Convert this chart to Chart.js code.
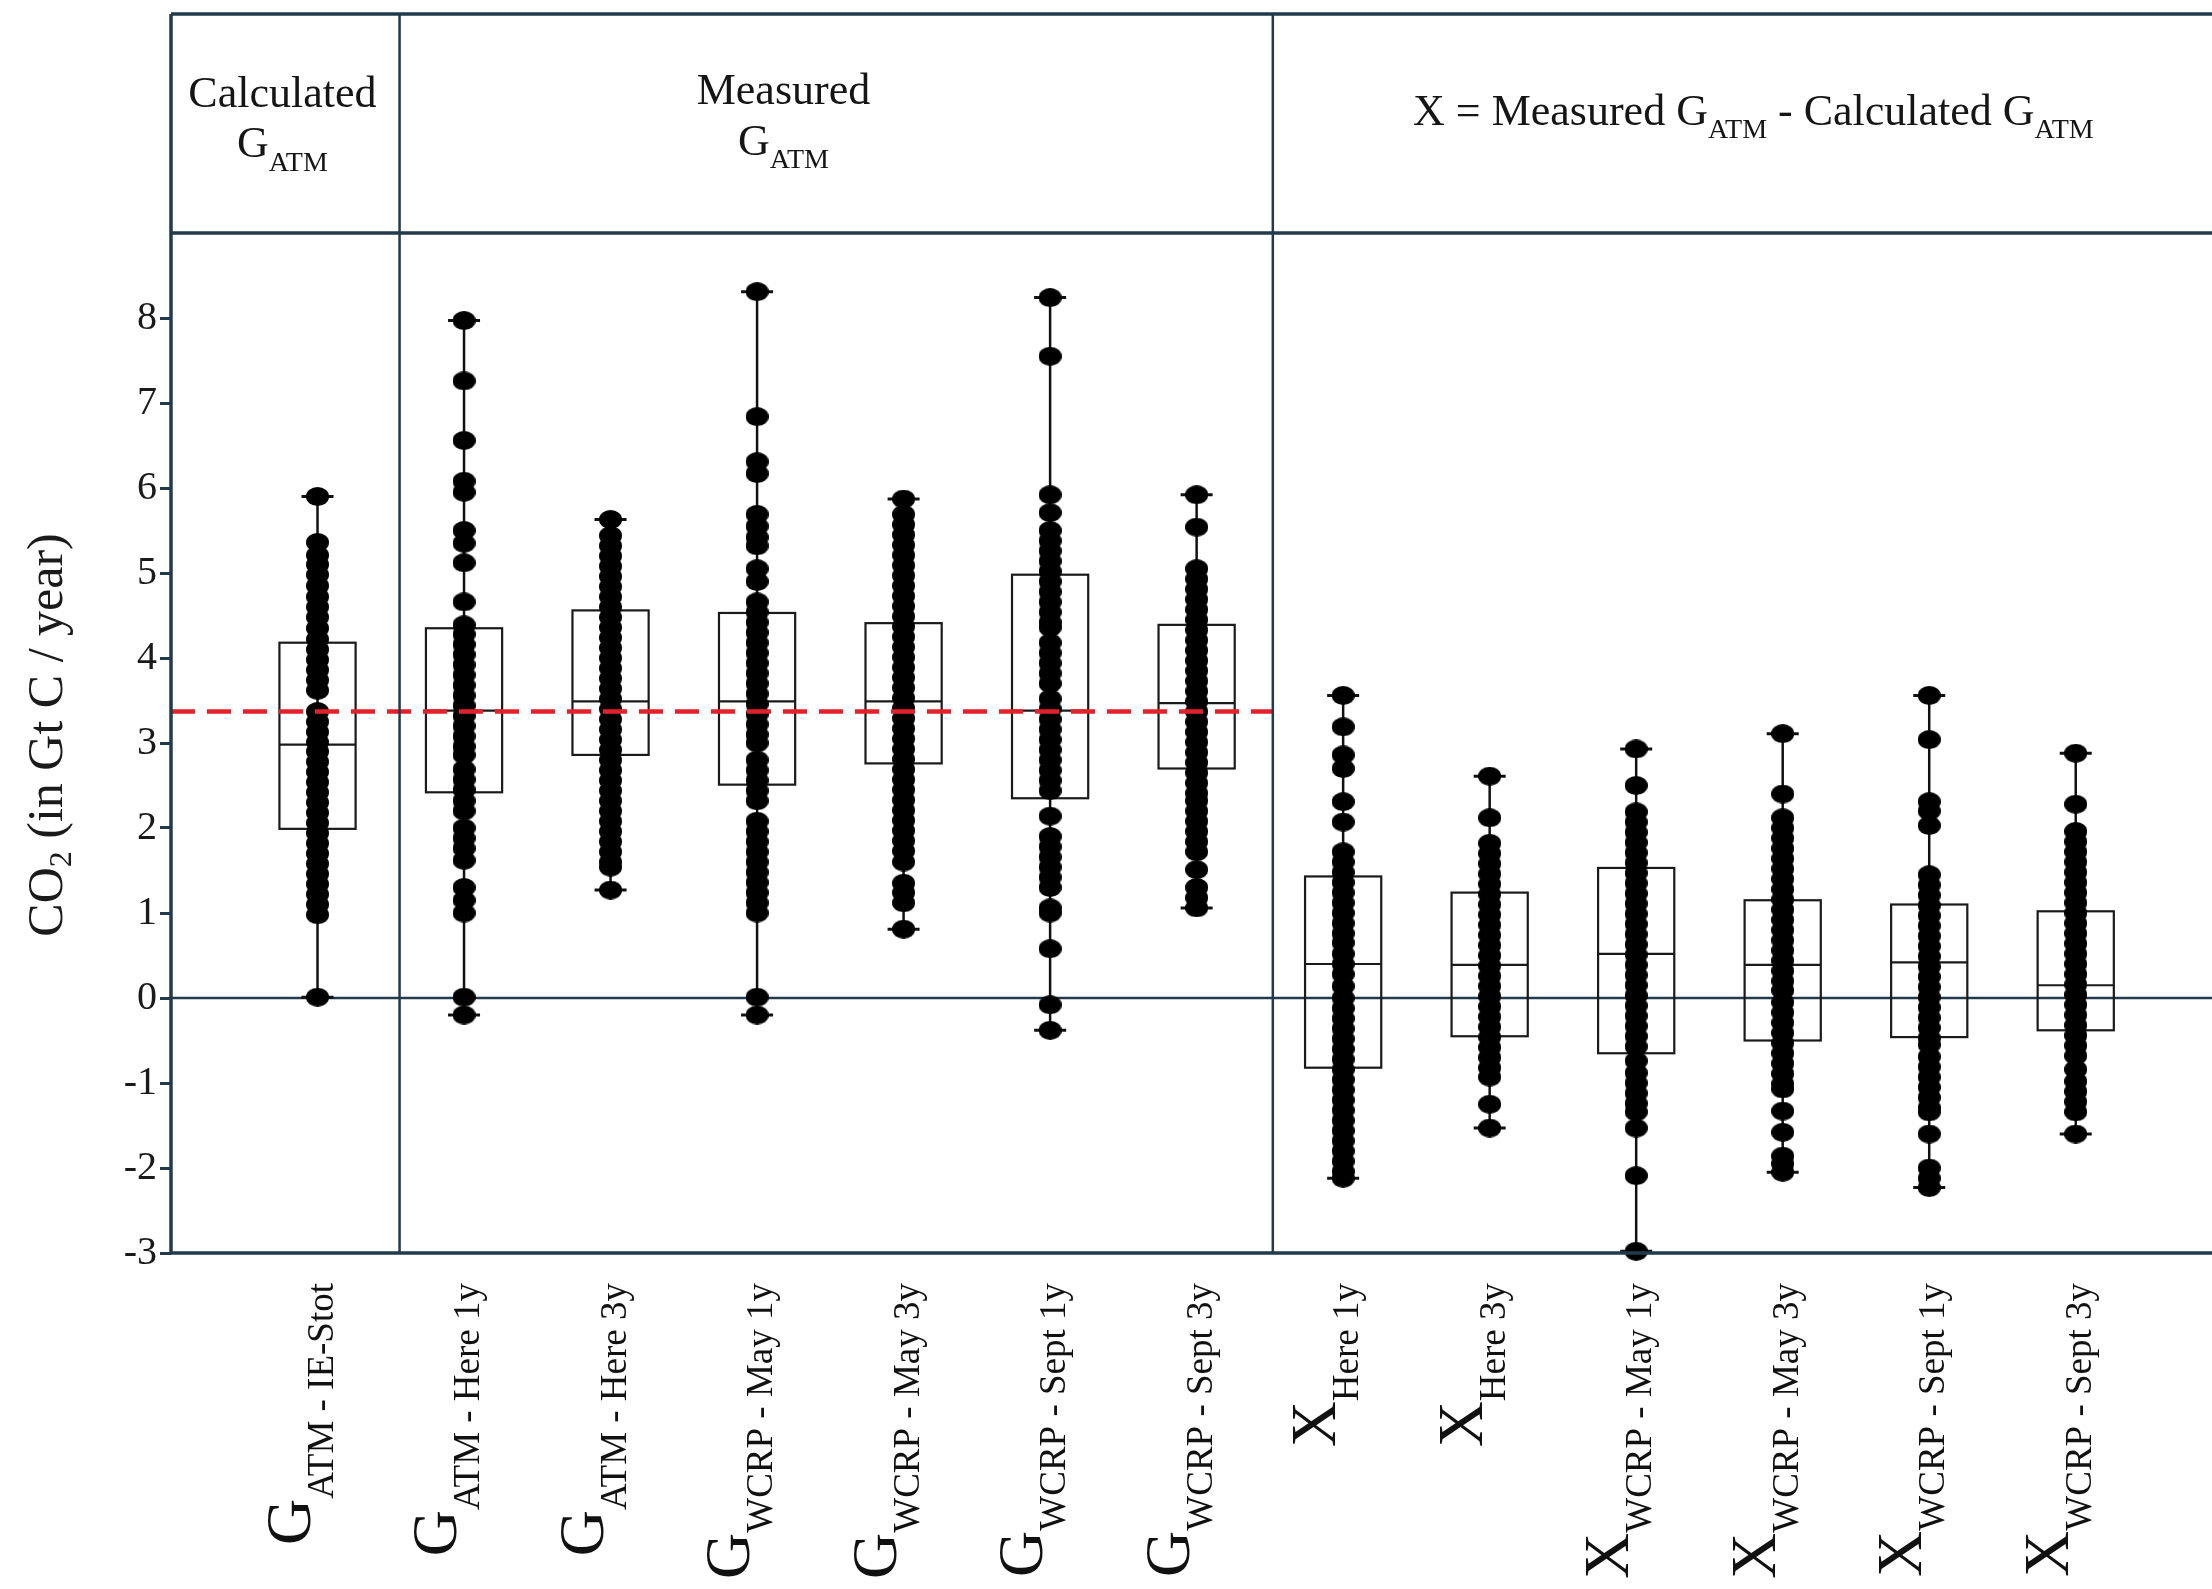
<!DOCTYPE html>
<html>
<head>
<meta charset="utf-8">
<script src="https://cdn.jsdelivr.net/npm/chart.js@4.4.1/dist/chart.umd.min.js"></script>
<style>
html,body{margin:0;padding:0;background:#ffffff;}
#wrap{width:2212px;height:1589px;position:relative;}
</style>
</head>
<body>
<div id="wrap"><canvas id="c"></canvas></div>
<script>
// ---------------- DATA ----------------
const categories = [
  'G_ATM - IE-Stot','G_ATM - Here 1y','G_ATM - Here 3y',
  'G_WCRP - May 1y','G_WCRP - May 3y','G_WCRP - Sept 1y','G_WCRP - Sept 3y',
  'X_Here 1y','X_Here 3y','X_WCRP - May 1y','X_WCRP - May 3y','X_WCRP - Sept 1y','X_WCRP - Sept 3y'
];
const labelMain = ['G','G','G','G','G','G','G','X','X','X','X','X','X'];
const labelSub = [
  'ATM - IE-Stot','ATM - Here 1y','ATM - Here 3y',
  'WCRP - May 1y','WCRP - May 3y','WCRP - Sept 1y','WCRP - Sept 3y',
  'Here 1y','Here 3y','WCRP - May 1y','WCRP - May 3y','WCRP - Sept 1y','WCRP - Sept 3y'
];

const ptsCalcIEStot = [5.90,5.36,5.21,5.10,4.98,4.85,4.72,4.60,4.48,4.35,4.22,4.10,3.98,3.86,3.74,3.62,3.37,3.25,3.13,3.01,2.90,2.78,2.66,2.54,2.42,2.30,2.18,2.06,1.94,1.82,1.70,1.58,1.46,1.34,1.22,1.10,0.98,0.01];
const ptsHere1y = [7.97,7.26,6.56,6.08,5.95,5.50,5.35,5.12,4.66,4.39,4.28,4.16,4.04,3.92,3.80,3.68,3.56,3.44,3.32,3.20,3.08,2.96,2.86,2.69,2.57,2.45,2.32,2.20,2.00,1.88,1.76,1.62,1.30,1.15,1.00,0.01,-0.20];
const ptsHere3y = [5.63,5.44,5.32,5.20,5.08,4.96,4.84,4.72,4.60,4.48,4.36,4.24,4.12,4.00,3.88,3.76,3.64,3.52,3.40,3.28,3.16,3.04,2.92,2.80,2.68,2.56,2.44,2.32,2.20,2.08,1.96,1.84,1.72,1.60,1.54,1.27];
const ptsMay1y = [8.31,6.84,6.31,6.17,5.69,5.55,5.42,5.32,5.05,4.90,4.66,4.54,4.42,4.30,4.18,4.06,3.94,3.82,3.70,3.58,3.46,3.34,3.22,3.10,3.00,2.80,2.68,2.56,2.44,2.32,2.08,1.96,1.84,1.72,1.60,1.48,1.36,1.24,1.12,1.00,0.01,-0.20];
const ptsMay3y = [5.87,5.69,5.57,5.45,5.33,5.21,5.09,4.97,4.85,4.73,4.61,4.49,4.37,4.25,4.13,4.01,3.89,3.77,3.65,3.53,3.41,3.29,3.17,3.05,2.93,2.81,2.69,2.57,2.45,2.33,2.21,2.09,1.97,1.85,1.73,1.60,1.35,1.24,1.12,0.81];
const ptsSept1y = [8.24,7.55,5.92,5.71,5.50,5.38,5.26,5.14,5.02,4.90,4.78,4.66,4.54,4.42,4.36,4.18,4.06,3.94,3.82,3.70,3.52,3.40,3.28,3.16,3.04,2.92,2.80,2.68,2.56,2.44,2.14,1.90,1.78,1.66,1.54,1.42,1.30,1.06,1.00,0.58,-0.08,-0.38];
const ptsSept3y = [5.92,5.54,5.05,4.93,4.81,4.69,4.57,4.45,4.33,4.21,4.09,3.97,3.85,3.73,3.61,3.49,3.37,3.25,3.13,3.01,2.89,2.77,2.65,2.53,2.41,2.32,2.20,2.08,1.96,1.84,1.72,1.51,1.30,1.18,1.06];
const ptsXHere1y = [3.56,3.19,2.86,2.70,2.31,2.07,1.72,1.60,1.48,1.36,1.24,1.12,1.00,0.88,0.76,0.65,0.52,0.40,0.28,0.14,0.00,-0.12,-0.24,-0.36,-0.48,-0.60,-0.72,-0.84,-0.96,-1.08,-1.20,-1.32,-1.44,-1.56,-1.68,-1.80,-1.92,-2.04,-2.12];
const ptsXHere3y = [2.61,2.12,1.82,1.70,1.58,1.46,1.34,1.22,1.10,0.98,0.86,0.74,0.62,0.50,0.38,0.26,0.14,0.02,-0.10,-0.22,-0.34,-0.46,-0.58,-0.70,-0.82,-0.93,-1.25,-1.53];
const ptsXMay1y = [2.93,2.50,2.19,2.07,1.95,1.83,1.71,1.59,1.47,1.35,1.23,1.11,0.99,0.87,0.75,0.63,0.51,0.39,0.27,0.15,0.03,-0.09,-0.21,-0.33,-0.45,-0.57,-0.74,-0.88,-1.00,-1.12,-1.24,-1.34,-1.53,-2.09,-2.98];
const ptsXMay3y = [3.11,2.40,2.12,2.00,1.88,1.76,1.64,1.52,1.40,1.28,1.16,1.04,0.92,0.80,0.68,0.56,0.44,0.32,0.20,0.09,-0.05,-0.17,-0.29,-0.41,-0.53,-0.65,-0.77,-0.89,-1.01,-1.07,-1.33,-1.58,-1.86,-1.95,-2.05];
const ptsXSept1y = [3.56,3.04,2.31,2.20,2.03,1.45,1.33,1.21,1.09,0.97,0.85,0.73,0.61,0.49,0.37,0.25,0.13,0.01,-0.11,-0.23,-0.35,-0.47,-0.55,-0.69,-0.81,-0.93,-1.05,-1.17,-1.29,-1.34,-1.60,-2.00,-2.12,-2.23];
const ptsXSept3y = [2.88,2.28,1.96,1.84,1.72,1.60,1.48,1.36,1.24,1.12,1.00,0.88,0.76,0.64,0.52,0.40,0.28,0.16,0.04,-0.08,-0.20,-0.32,-0.44,-0.56,-0.68,-0.84,-0.98,-1.10,-1.22,-1.34,-1.60];

const q1Values     = [1.99, 2.42, 2.86, 2.51, 2.76, 2.35, 2.70, -0.82, -0.45, -0.65, -0.50, -0.46, -0.38];
const medianValues = [2.98, 3.38, 3.49, 3.49, 3.49, 3.38, 3.47,  0.40,  0.39,  0.52,  0.39,  0.42,  0.15];
const q3Values     = [4.18, 4.35, 4.56, 4.53, 4.41, 4.98, 4.39,  1.43,  1.24,  1.53,  1.15,  1.10,  1.02];

const referenceLineValue = 3.37;     // red dashed line (CO2 Gt C / year)
const sectionDividers = [1.56, 7.52]; // panel boundaries on the category axis
const yTickValues = [-3,-2,-1,0,1,2,3,4,5,6,7,8];

const headerCalculated = ['Calculated', 'G', 'ATM'];
const headerMeasured   = ['Measured', 'G', 'ATM'];
const headerDifference = [['X = Measured ',0],['G',0],['ATM',1],[' - Calculated ',0],['G',0],['ATM',1]];
const yTitleRuns = [['CO',0],['2',1],[' (in Gt C / year)',0]];

// ---------------- BUILD ----------------
const allPoints = [ptsCalcIEStot, ptsHere1y, ptsHere3y, ptsMay1y, ptsMay3y, ptsSept1y, ptsSept3y,
                   ptsXHere1y, ptsXHere3y, ptsXMay1y, ptsXMay3y, ptsXSept1y, ptsXSept3y];

const FRAME = '#213a4c';
const SERIF = '"Liberation Serif", "DejaVu Serif", serif';
const X_MAX = 13.93;

const scatterData = [];
allPoints.forEach((arr, i) => arr.forEach(v => scatterData.push({x: i + 1, y: v})));

// slightly wide elliptical dot marker
const dot = document.createElement('canvas');
dot.width = 23; dot.height = 19;
(function () {
  const g = dot.getContext('2d');
  g.fillStyle = '#000';
  g.beginPath(); g.ellipse(11.5, 9.5, 11.5, 9.5, 0, 0, Math.PI * 2); g.fill();
})();

function runsWidth(ctx, runs, mainSize, subSize) {
  let w = 0;
  runs.forEach(([t, s]) => { ctx.font = (s ? subSize : mainSize) + 'px ' + SERIF; w += ctx.measureText(t).width; });
  return w;
}
function drawRuns(ctx, runs, x, y, mainSize, subSize, subShift) {
  let cx = x;
  runs.forEach(([t, s]) => {
    ctx.font = (s ? subSize : mainSize) + 'px ' + SERIF;
    ctx.fillText(t, cx, y + (s ? subShift : 0));
    cx += ctx.measureText(t).width;
  });
}
function drawRunsCentered(ctx, runs, cx, y, mainSize, subSize, subShift) {
  const w = runsWidth(ctx, runs, mainSize, subSize);
  drawRuns(ctx, runs, cx - w / 2, y, mainSize, subSize, subShift);
}

const boxPlugin = {
  id: 'boxes',
  beforeDatasetsDraw(chart) {
    const ctx = chart.ctx, xs = chart.scales.x, ys = chart.scales.y, ca = chart.chartArea;
    ctx.save();
    // zero line
    ctx.strokeStyle = FRAME; ctx.lineWidth = 2.5;
    const y0 = ys.getPixelForValue(0);
    ctx.beginPath(); ctx.moveTo(ca.left, y0); ctx.lineTo(chart.width, y0); ctx.stroke();
    const halfW = 0.26;
    allPoints.forEach((arr, i) => {
      const xc = xs.getPixelForValue(i + 1);
      const xl = xs.getPixelForValue(i + 1 - halfW), xr = xs.getPixelForValue(i + 1 + halfW);
      const yMin = ys.getPixelForValue(Math.min(...arr));
      const yMax = ys.getPixelForValue(Math.max(...arr));
      const yq1 = ys.getPixelForValue(q1Values[i]);
      const yq3 = ys.getPixelForValue(q3Values[i]);
      const ym = ys.getPixelForValue(medianValues[i]);
      ctx.strokeStyle = '#111'; ctx.lineWidth = 2.5;
      ctx.beginPath(); ctx.moveTo(xc, yMin); ctx.lineTo(xc, yMax); ctx.stroke();
      ctx.lineWidth = 3;
      ctx.beginPath();
      ctx.moveTo(xc - 16, yMin); ctx.lineTo(xc + 16, yMin);
      ctx.moveTo(xc - 16, yMax); ctx.lineTo(xc + 16, yMax);
      ctx.stroke();
      ctx.lineWidth = 2.2; ctx.strokeStyle = '#1a1a1a';
      ctx.strokeRect(xl, yq3, xr - xl, yq1 - yq3);
      ctx.beginPath(); ctx.moveTo(xl, ym); ctx.lineTo(xr, ym); ctx.stroke();
    });
    ctx.restore();
  },
  afterDatasetsDraw(chart) {
    const ctx = chart.ctx, xs = chart.scales.x, ys = chart.scales.y, ca = chart.chartArea;
    ctx.save();
    // red dashed reference line across calculated + measured panels
    ctx.strokeStyle = '#e3212b'; ctx.lineWidth = 4.5; ctx.setLineDash([24, 12]);
    const yr = ys.getPixelForValue(referenceLineValue);
    ctx.beginPath(); ctx.moveTo(ca.left, yr); ctx.lineTo(xs.getPixelForValue(sectionDividers[1]), yr); ctx.stroke();
    ctx.restore();
  },
  afterDraw(chart) {
    const ctx = chart.ctx, xs = chart.scales.x, ys = chart.scales.y, ca = chart.chartArea;
    const headTop = 14;
    ctx.save();
    ctx.strokeStyle = FRAME; ctx.lineWidth = 3.5;
    ctx.beginPath();
    ctx.moveTo(ca.left, headTop); ctx.lineTo(chart.width, headTop);
    ctx.moveTo(ca.left, ca.top); ctx.lineTo(chart.width, ca.top);
    ctx.moveTo(ca.left, ca.bottom); ctx.lineTo(chart.width, ca.bottom);
    ctx.moveTo(ca.left, headTop); ctx.lineTo(ca.left, ca.bottom);
    ctx.stroke();
    ctx.lineWidth = 2.5;
    ctx.beginPath();
    sectionDividers.forEach(v => { const x = xs.getPixelForValue(v); ctx.moveTo(x, headTop); ctx.lineTo(x, ca.bottom); });
    ctx.stroke();

    // header texts
    ctx.fillStyle = '#151515'; ctx.textBaseline = 'alphabetic'; ctx.textAlign = 'left';
    const c1 = xs.getPixelForValue(0.76), c2 = xs.getPixelForValue(4.18), c3 = xs.getPixelForValue(10.8);
    drawRunsCentered(ctx, [[headerCalculated[0],0]], c1, 107, 44, 28, 14);
    drawRunsCentered(ctx, [[headerCalculated[1],0],[headerCalculated[2],1]], c1, 157, 44, 28, 14);
    drawRunsCentered(ctx, [[headerMeasured[0],0]], c2, 104, 44, 28, 14);
    drawRunsCentered(ctx, [[headerMeasured[1],0],[headerMeasured[2],1]], c2, 155, 44, 28, 13);
    drawRunsCentered(ctx, headerDifference, c3, 125, 44, 28, 13);

    // y axis title (rotated)
    ctx.save();
    const yMid = (ca.top + ca.bottom) / 2 - 8;
    ctx.translate(62, yMid);
    ctx.rotate(-Math.PI / 2);
    ctx.fillStyle = '#1a1a1a';
    drawRunsCentered(ctx, yTitleRuns, 0, 0, 50, 32, 9);
    ctx.restore();

    // x category labels (rotated, reading upward)
    const textEndY = ca.bottom + 30;
    categories.forEach((c, i) => {
      const xc = xs.getPixelForValue(i + 1);
      ctx.save();
      ctx.translate(xc - 8, textEndY);
      ctx.rotate(-Math.PI / 2);
      ctx.fillStyle = '#111';
      const runs = [[labelMain[i],0],[labelSub[i],1]];
      const w = runsWidth(ctx, runs, 64, 37);
      drawRuns(ctx, runs, -w, 0, 64, 37, 23);
      ctx.restore();
    });
    ctx.restore();
  }
};

const chart = new Chart(document.getElementById('c'), {
  type: 'scatter',
  data: {
    datasets: [{
      label: 'annual values',
      data: scatterData,
      pointStyle: dot,
      pointRadius: 10,
      pointHoverRadius: 10,
      pointBackgroundColor: '#000',
      pointBorderWidth: 0,
      clip: false
    }]
  },
  options: {
    responsive: true,
    maintainAspectRatio: false,
    animation: false,
    events: [],
    layout: { autoPadding: false, padding: { top: 233, bottom: 336, left: 0, right: 0 } },
    plugins: { legend: { display: false }, tooltip: { enabled: false }, title: { display: false } },
    scales: {
      x: { type: 'linear', min: 0, max: X_MAX, display: false },
      y: {
        type: 'linear', min: -3, max: 9,
        afterBuildTicks: s => { s.ticks = yTickValues.map(v => ({ value: v })); },
        afterFit: s => { s.width = 171; },
        ticks: { font: { family: SERIF, size: 40 }, color: '#1a1a1a', padding: 3, autoSkip: false },
        grid: { drawOnChartArea: false, drawTicks: true, tickLength: 11, tickWidth: 3, tickColor: FRAME },
        border: { display: false }
      }
    }
  },
  plugins: [boxPlugin]
});
</script>
</body>
</html>
